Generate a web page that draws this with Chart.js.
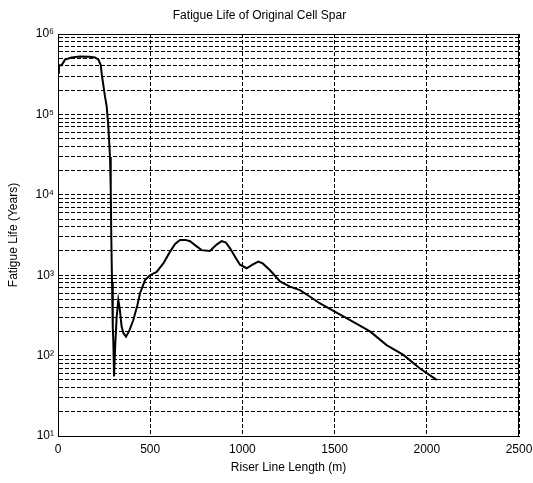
<!DOCTYPE html>
<html>
<head>
<meta charset="utf-8">
<script src="https://cdn.jsdelivr.net/npm/chart.js@4.4.0/dist/chart.umd.min.js"></script>
<style>
  html, body { margin: 0; padding: 0; background: #fff; }
  canvas { display: block; }
</style>
</head>
<body>
<canvas id="fatigue" width="533" height="483"></canvas>
<script>
// Fatigue life vs riser line length
const riserLength = [
  0, 5, 20, 38, 74, 119, 170, 201, 219, 232, 237, 255, 264, 273, 282,
  286, 289, 293, 297, 300, 304, 310, 318, 327, 335, 345, 355, 369, 385,
  408, 430, 445, 472, 499, 535, 571, 607, 635, 662, 690, 716, 750, 779,
  824, 860, 888, 910, 933, 960, 987, 1023, 1055, 1086, 1110, 1150, 1204,
  1258, 1312, 1367, 1421, 1484, 1584, 1692, 1782, 1873, 1963, 2054
];
const fatigueLife = [
  330000, 410000, 410000, 480000, 510000, 525000, 520000, 510000, 480000, 410000, 320000, 166000, 126000, 71000, 29500,
  11500, 3000, 800, 230, 150, 55, 130, 300, 490, 380, 230, 190, 172, 200,
  275, 420, 596, 870, 1000, 1100, 1400, 1950, 2450, 2750, 2750, 2650, 2300, 2050,
  2000, 2400, 2650, 2550, 2160, 1700, 1350, 1220, 1350, 1480, 1400, 1150, 835,
  720, 653, 540, 445, 370, 277, 200, 135, 102, 69, 50
];
const xTicks = [0, 500, 1000, 1500, 2000, 2500];
const yDecades = [1, 2, 3, 4, 5, 6];   // 10^1 .. 10^6

const SUP = { '0': '⁰', '1': '¹', '2': '²', '3': '³', '4': '⁴', '5': '⁵', '6': '⁶' };
const FONT = 'Arial, "Liberation Sans", Helvetica, sans-serif';

// full log grid: 1..9 x each decade, plus the top one
const yTicks = [];
yDecades.slice(0, -1).forEach(d => {
  for (let m = 1; m <= 9; m++) yTicks.push(m * Math.pow(10, d));
});
yTicks.push(Math.pow(10, yDecades[yDecades.length - 1]));

// box around the plot, like matlab's "box on"
const boxPlugin = {
  id: 'box',
  afterDraw(chart) {
    const { ctx, chartArea: a } = chart;
    ctx.save();
    ctx.strokeStyle = '#000';
    ctx.lineWidth = 1;
    ctx.strokeRect(a.left + 0.5, a.top + 0.5, a.right - a.left - 1, a.bottom - a.top);
    ctx.restore();
  }
};

const gridStyle = { color: '#000', lineWidth: 1, drawTicks: false };
// border.dash is what v4 uses for the grid line dashes
const dashed = { display: true, color: '#000', width: 1, dash: [4, 2] };

new Chart(document.getElementById('fatigue'), {
  type: 'line',
  data: {
    datasets: [{
      data: riserLength.map((x, i) => ({ x, y: fatigueLife[i] })),
      borderColor: '#000',
      borderWidth: 2,
      pointRadius: 0,
      tension: 0,
      fill: false
    }]
  },
  options: {
    responsive: false,
    animation: false,
    layout: { padding: { left: 0, right: 14, top: 0, bottom: 0 } },
    plugins: {
      legend: { display: false },
      tooltip: { enabled: false },
      title: {
        display: true,
        text: 'Fatigue Life of Original Cell Spar',
        color: '#000',
        font: { family: FONT, size: 12, weight: 'normal', lineHeight: 1.2 },
        padding: { top: 8, bottom: 11.6 }
      }
    },
    scales: {
      x: {
        type: 'linear',
        min: 0,
        max: 2500,
        afterBuildTicks: s => { s.ticks = xTicks.map(v => ({ value: v })); },
        grid: gridStyle,
        border: dashed,
        ticks: {
          color: '#000',
          padding: 6,
          font: { family: FONT, size: 12 },
          maxRotation: 0,
          autoSkip: false,
          callback: v => String(v)
        },
        title: {
          display: true,
          text: 'Riser Line Length (m)',
          color: '#000',
          font: { family: FONT, size: 12 },
          padding: { top: 0, bottom: 8 }
        },
        // fixed height, and let the "2500" label hang into the right margin
        afterFit: s => { s.height = 47; s.paddingRight = 0; s.paddingLeft = 0; }
      },
      y: {
        type: 'logarithmic',
        min: 10,
        max: 1e6,
        afterBuildTicks: s => { s.ticks = yTicks.map(v => ({ value: v })); },
        grid: gridStyle,
        border: dashed,
        ticks: {
          color: '#000',
          padding: 4,
          autoSkip: false,
          font: { family: FONT, size: 12 },
          callback: v => {
            const e = Math.log10(v);
            if (Math.abs(e - Math.round(e)) > 1e-9) return '';
            return '10' + String(Math.round(e)).split('').map(c => SUP[c]).join('');
          }
        },
        title: {
          display: true,
          text: 'Fatigue Life (Years)',
          color: '#000',
          font: { family: FONT, size: 12 },
          padding: { top: 6, bottom: 0 }
        },
        afterFit: s => { s.width = 58; }
      }
    }
  },
  plugins: [boxPlugin]
});
</script>
</body>
</html>
